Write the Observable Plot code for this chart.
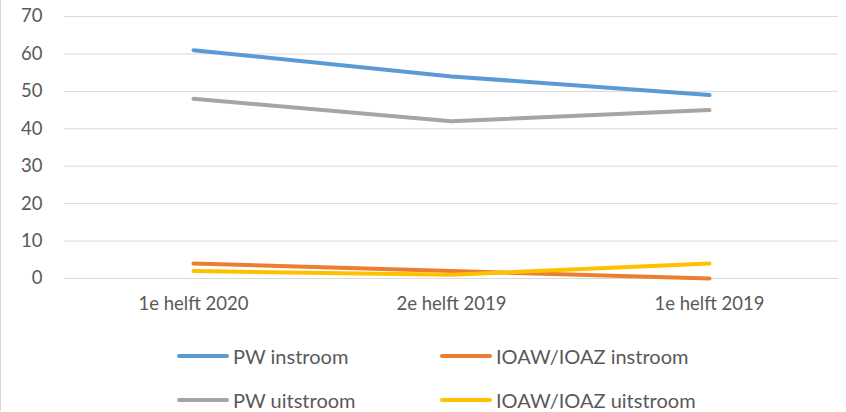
<!DOCTYPE html>
<html>
<head>
<meta charset="utf-8">
<script src="https://cdn.jsdelivr.net/npm/d3@7"></script>
<script src="https://cdn.jsdelivr.net/npm/@observablehq/plot@0.6"></script>
<style>
  html, body { margin: 0; padding: 0; background: #fff; }
  #wrap { position: relative; width: 846px; height: 412px; overflow: hidden; font-family: Lato, "Open Sans", sans-serif; color: #595959; }
  #border { position: absolute; left: 0; top: 0; width: 845px; height: 411px; border-left: 1px solid #d9d9d9; box-sizing: border-box; }
  #legend { position: absolute; left: 0; top: 0; width: 846px; height: 412px; pointer-events: none; }
  .item { position: absolute; display: flex; align-items: center; font-size: 20px; color: #595959; white-space: nowrap; }
  .sw { width: 52px; height: 4px; border-radius: 2px; margin-right: 4px; }
</style>
</head>
<body>
<div id="wrap"><div id="border"></div><div id="chart"></div><div id="legend"></div></div>
<script>
const categories = ["1e helft 2020", "2e helft 2019", "1e helft 2019"];
const seriesNames = ["PW instroom", "IOAW/IOAZ instroom", "PW uitstroom", "IOAW/IOAZ uitstroom"];
const seriesColors = ["#5B9BD5", "#ED7D31", "#A5A5A5", "#FFC000"];
const pwInstroom = [61, 54, 49];
const ioawInstroom = [4, 2, 0];
const pwUitstroom = [48, 42, 45];
const ioawUitstroom = [2, 1, 4];
const yTicks = [0, 10, 20, 30, 40, 50, 60, 70];

const valuesBySeries = [pwInstroom, ioawInstroom, pwUitstroom, ioawUitstroom];
const drawOrder = [0, 2, 1, 3];
const data = [];
for (const s of drawOrder) {
  categories.forEach((c, i) => data.push({series: seriesNames[s], cat: c, value: valuesBySeries[s][i]}));
}

const chart = Plot.plot({
  width: 846,
  height: 320,
  marginLeft: 64,
  marginRight: 8,
  marginTop: 16,
  marginBottom: 42,
  style: {fontFamily: "Lato, 'Open Sans', sans-serif", fontSize: "18.5px", color: "#595959", background: "transparent"},
  x: {type: "point", domain: categories, padding: 0.5, label: null},
  y: {domain: [0, 70], label: null},
  color: {domain: seriesNames, range: seriesColors},
  marks: [
    Plot.ruleY(yTicks, {stroke: "#d9d9d9", strokeWidth: 1}),
    Plot.axisY({ticks: yTicks, tickSize: 0, tickPadding: 22, label: null, fontSize: 18.5}),
    Plot.axisX({tickSize: 0, tickPadding: 18, label: null, fontSize: 18.5}),
    Plot.line(data, {x: "cat", y: "value", z: "series", stroke: "series", strokeWidth: 4, strokeLinecap: "round", strokeLinejoin: "round", curve: "linear"})
  ]
});
document.getElementById("chart").appendChild(chart);

const legendPos = [
  {left: 177, top: 356}, {left: 440, top: 356},
  {left: 177, top: 400}, {left: 440, top: 400}
];
const legend = document.getElementById("legend");
seriesNames.forEach((name, i) => {
  const d = document.createElement("div");
  d.className = "item";
  d.style.left = legendPos[i].left + "px";
  d.style.top = (legendPos[i].top - 12) + "px";
  d.style.height = "24px";
  const sw = document.createElement("div");
  sw.className = "sw";
  sw.style.background = seriesColors[i];
  const t = document.createElement("span");
  t.textContent = name;
  d.appendChild(sw); d.appendChild(t);
  legend.appendChild(d);
});
</script>
</body>
</html>
